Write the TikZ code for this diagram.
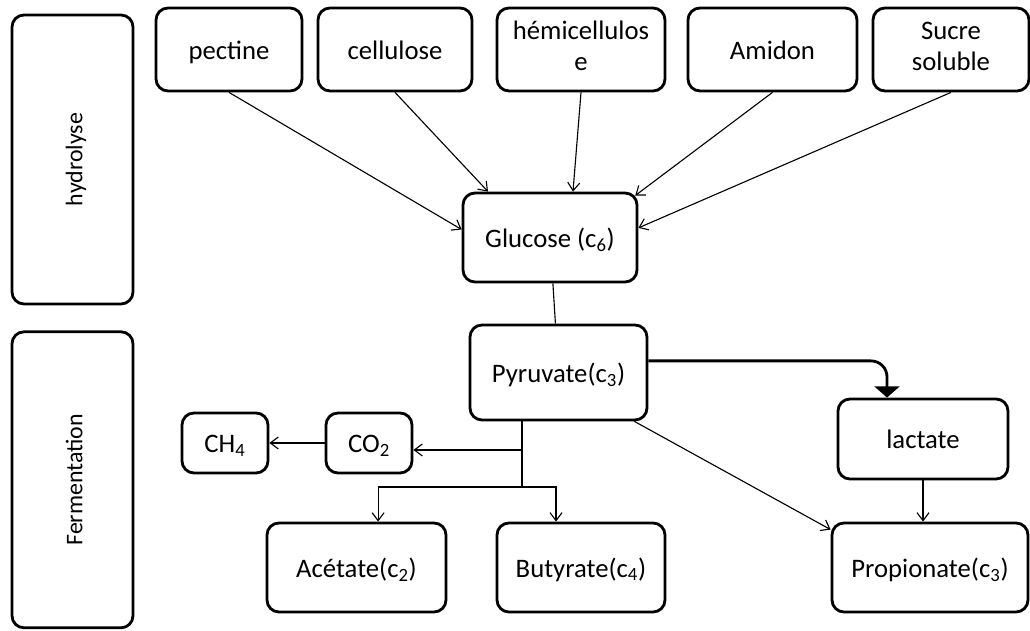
\documentclass[tikz,border=0pt]{standalone}
\usepackage{fontspec}
\setmainfont{Carlito}
\usetikzlibrary{arrows.meta}

\newcommand{\boxstrut}{\rule[-5pt]{0pt}{24pt}}

\begin{document}
\begin{tikzpicture}[
  box/.style={rectangle, rounded corners=0.3cm, draw, line width=2pt, align=center, font=\fontsize{19}{22}\selectfont, execute at begin node=\boxstrut},
  phase/.style={box, rotate=90, font=\fontsize{17}{20}\selectfont},
  link/.style={line width=0.8pt, -{Straight Barb[length=0.2cm, width=0.3cm]}},
  bigarrow/.style={line width=2pt, rounded corners=0.4cm, -{Triangle[length=0.28cm, width=0.62cm]}}
]

\useasboundingbox (0,0) rectangle (25.75,15.775);

\node (hydrolyse)[phase, minimum width=7.225cm, minimum height=3.025cm] at (1.8125, 11.7875) {hydrolyse};
\node (fermentation)[phase, minimum width=7.4cm, minimum height=3.025cm] at (1.8125, 3.78) {Fermentation};

\node (pectine)[box, minimum width=3.65cm, minimum height=2.075cm] at (5.725, 14.5375) {pectine};
\node (cellulose)[box, minimum width=3.85cm, minimum height=2.075cm] at (9.875, 14.5375) {cellulose};
\node (hemi)[box, minimum width=4.2cm, minimum height=2.075cm] at (14.525, 14.5375) {hémicellulos\\e};
\node (amidon)[box, minimum width=4.225cm, minimum height=2.075cm] at (19.3125, 14.5375) {Amidon};
\node (sucre)[box, minimum width=3.9cm, minimum height=2.075cm] at (23.775, 14.5375) {Sucre\\soluble};

\node (glucose)[box, minimum width=4.35cm, minimum height=2.225cm] at (13.75, 9.8375) {Glucose (c\textsubscript{6})};
\node (pyruvate)[box, minimum width=4.425cm, minimum height=2.375cm] at (13.9625, 6.4625) {Pyruvate(c\textsubscript{3})};
\node (lactate)[box, minimum width=4.25cm, minimum height=2cm] at (23.075, 4.8) {lactate};

\node (ch4)[box, minimum width=2.15cm, minimum height=1.5cm] at (5.625, 4.7) {CH\textsubscript{4}};
\node (co2)[box, minimum width=2.15cm, minimum height=1.5cm] at (9.225, 4.7) {CO\textsubscript{2}};

\node (acetate)[box, minimum width=4.475cm, minimum height=2.225cm] at (8.9125, 1.5875) {Acétate(c\textsubscript{2})};
\node (butyrate)[box, minimum width=4.2cm, minimum height=2.225cm] at (14.525, 1.5875) {Butyrate(c\textsubscript{4})};
\node (propionate)[box, minimum width=4.9cm, minimum height=2.225cm] at (23.25, 1.5875) {Propionate(c\textsubscript{3})};

\coordinate (split) at (13.05, 4.525);
\coordinate (fork) at (13.05, 3.6);

\draw[link] (pectine.south) -- ([yshift=0.2cm]glucose.west);
\draw[link] (cellulose.south) -- ([xshift=-1.55cm]glucose.north);
\draw[link] (hemi.south) -- ([xshift=0.575cm]glucose.north);
\draw[link] (amidon.south) -- ([shift={(-0.08,-0.1)}]glucose.north east);
\draw[link] (sucre.south) -- ([yshift=0.24cm]glucose.east);

\draw[line width=0.8pt] (glucose) -- (pyruvate);

\draw[bigarrow] ([yshift=0.29cm]pyruvate.east) -| ([xshift=-0.9cm]lactate.north);

\draw[line width=0.8pt] (pyruvate.south -| fork) -- (fork);
\draw[link] (split) -- (split -| co2.east);
\draw[link] (co2) -- (ch4);
\draw[link] (fork) -| ([xshift=0.54cm]acetate.north);
\draw[link] (fork) -| ([xshift=-0.625cm]butyrate.north);

\draw[link] ([xshift=-0.35cm]pyruvate.south east) -- ([yshift=-0.2cm]propionate.north west);
\draw[link] (lactate.south) -- (lactate.south |- propionate.north);

\end{tikzpicture}
\end{document}
